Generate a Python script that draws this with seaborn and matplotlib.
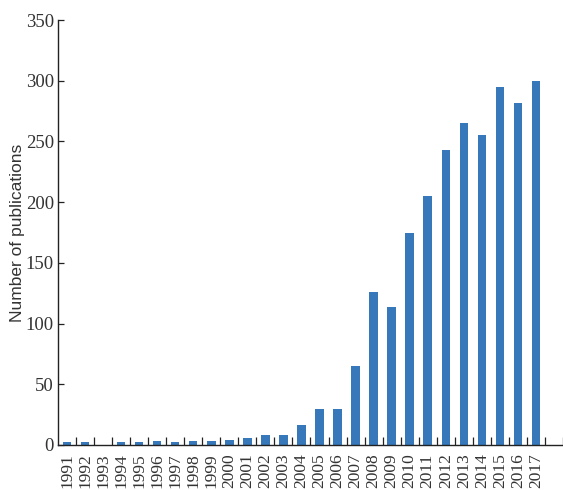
import matplotlib
matplotlib.use("Agg")
import matplotlib.pyplot as plt
from matplotlib.ticker import FixedLocator
import seaborn as sns
import pandas as pd

# Annual publication counts
years = [str(y) for y in range(1991, 2018)]
counts = [2, 2, 0, 2, 2, 3, 2, 3, 3, 4, 6, 8, 8, 16, 30, 30, 65,
          126, 114, 175, 205, 243, 265, 255, 295, 282, 300]
y_ticks = [0, 50, 100, 150, 200, 250, 300, 350]
y_label = "Number of publications"

sns.set_theme(style="white")
plt.rcParams["font.family"] = ["Liberation Serif", "DejaVu Serif"]

df = pd.DataFrame({"year": years, "count": counts})

fig = plt.figure(figsize=(5.63, 4.9), dpi=100)
ax = fig.add_axes([0.103, 0.092, 0.897, 0.867])

sns.barplot(data=df, x="year", y="count", color="#3778ba", width=0.47,
            saturation=1, ax=ax, edgecolor="none")

ax.set_xlim(-0.5, len(years) + 0.5)
ax.set_ylim(0, 350)
ax.set_yticks(y_ticks)
ax.set_yticklabels([str(t) for t in y_ticks], fontsize=13.5, color="#333333")

# Labels centred under bars, tick marks on category boundaries
ax.set_xticks(range(len(years)))
ax.set_xticklabels(years, rotation=90, fontsize=12.5, color="#333333")
ax.tick_params(axis="x", which="major", length=0, pad=6)
ax.xaxis.set_minor_locator(FixedLocator([i + 0.5 for i in range(len(years) + 1)]))
ax.tick_params(axis="x", which="minor", direction="in", length=5.5,
               width=0.9, color="#222222", bottom=True)
ax.tick_params(axis="y", which="major", direction="in", length=4,
               width=0.9, color="#222222", left=True, pad=3)

ax.set_xlabel("")
ax.set_ylabel(y_label, fontsize=12.5, color="#333333",
              family=["Liberation Sans", "DejaVu Sans"])
ax.yaxis.set_label_coords(-0.066, 0.5)

for side in ["top", "right"]:
    ax.spines[side].set_visible(False)
for side in ["left", "bottom"]:
    ax.spines[side].set_color("#222222")
    ax.spines[side].set_linewidth(1.0)

fig.savefig("out.png", dpi=100)
